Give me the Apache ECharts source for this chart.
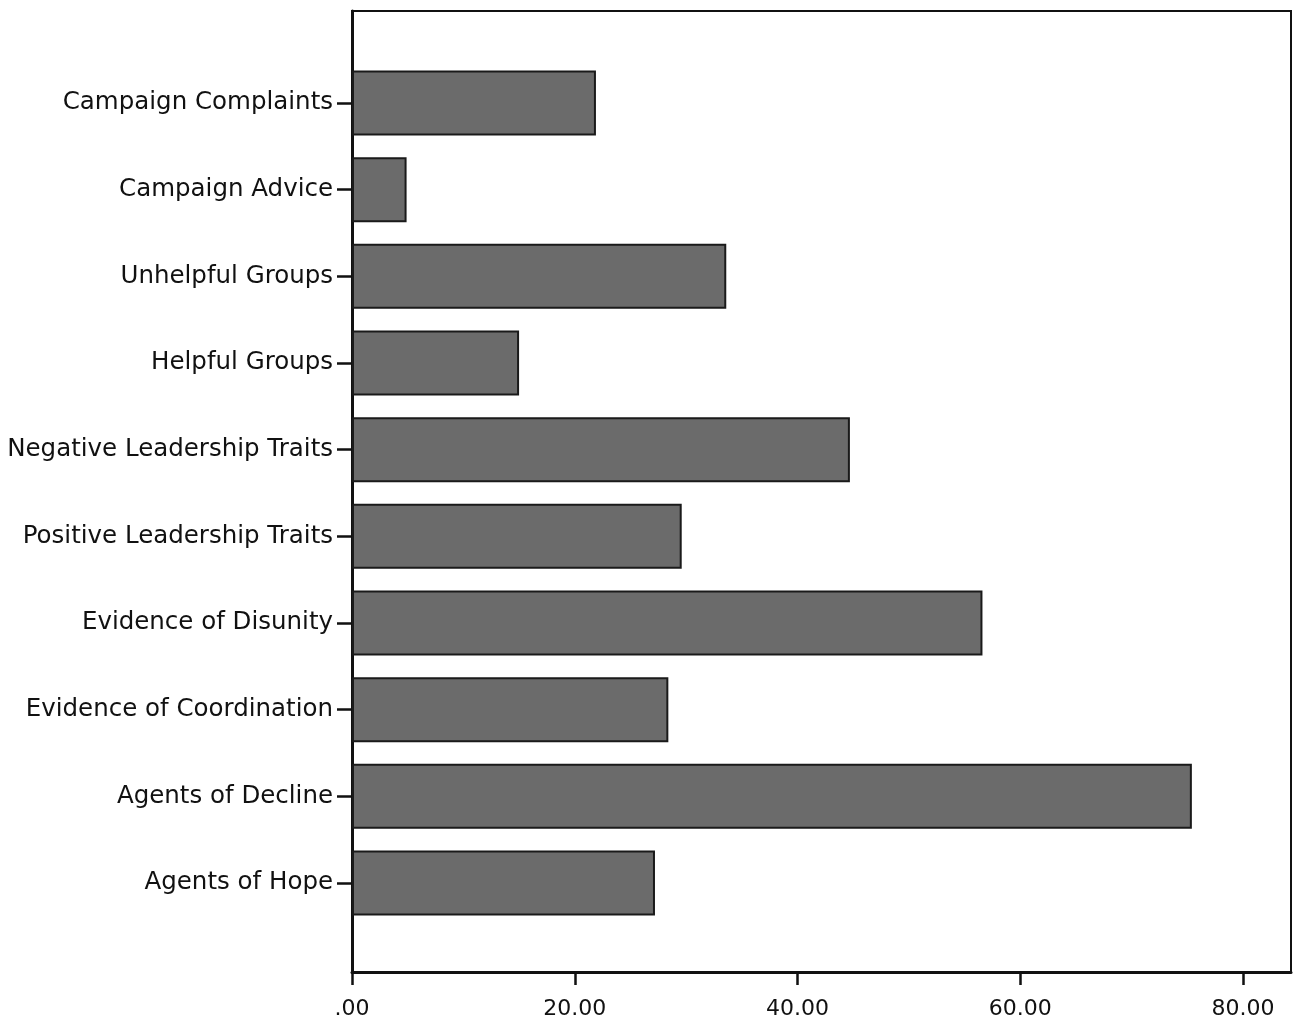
<!DOCTYPE html>
<html><head><meta charset="utf-8">
<script src="https://cdn.jsdelivr.net/npm/echarts@6/dist/echarts.min.js"></script>
<style>html,body{margin:0;padding:0;background:#fff}#c{width:1303px;height:1026px}</style>
</head><body><div id="c"></div>
<script>
const categories = ["Campaign Complaints","Campaign Advice","Unhelpful Groups","Helpful Groups","Negative Leadership Traits","Positive Leadership Traits","Evidence of Disunity","Evidence of Coordination","Agents of Decline","Agents of Hope"];
const values = [21.9, 4.9, 33.6, 15.0, 44.7, 29.6, 56.6, 28.4, 75.4, 27.2];
const xTicks = [0, 20, 40, 60, 80];
const xMax = 84.3;

const chart = echarts.init(document.getElementById('c'), null, {renderer:'canvas'});
const font = 'DejaVu Sans';
chart.setOption({
  animation:false,
  backgroundColor:'#fff',
  grid:[
    {left:352, right:12, top:11, bottom:54, show:true, borderColor:'#111', borderWidth:2, backgroundColor:'transparent'},
    {left:352, right:12, top:59.67, bottom:99.67}
  ],
  xAxis:[
    {type:'value', gridIndex:0, min:0, max:xMax, interval:20,
     splitLine:{show:false},
     axisLine:{show:true, lineStyle:{color:'#111', width:3}},
     axisTick:{show:true, inside:false, length:13, customValues:xTicks, lineStyle:{color:'#111', width:2.5}},
     axisLabel:{show:true, margin:26, color:'#111', fontFamily:font, fontSize:22, customValues:xTicks,
       formatter:function(v){ return v===0?'.00':v.toFixed(2); }}},
    {type:'value', gridIndex:1, min:0, max:xMax, show:false, splitLine:{show:false}}
  ],
  yAxis:[
    {type:'value', gridIndex:0, show:true, splitLine:{show:false},
     axisLine:{show:true, lineStyle:{color:'#111', width:3}}, axisTick:{show:false}, axisLabel:{show:false}},
    {type:'category', gridIndex:1, data:categories, inverse:true,
     axisLine:{show:false},
     axisTick:{show:true, alignWithLabel:true, length:15, lineStyle:{color:'#111', width:2.5}},
     axisLabel:{margin:19, color:'#111', fontFamily:font, fontSize:24.5}}
  ],
  series:[{
    type:'bar', xAxisIndex:1, yAxisIndex:1, data:values, barWidth:65,
    itemStyle:{color:'#6b6b6b', borderColor:'#1a1a1a', borderWidth:2}
  }]
});
</script></body></html>
